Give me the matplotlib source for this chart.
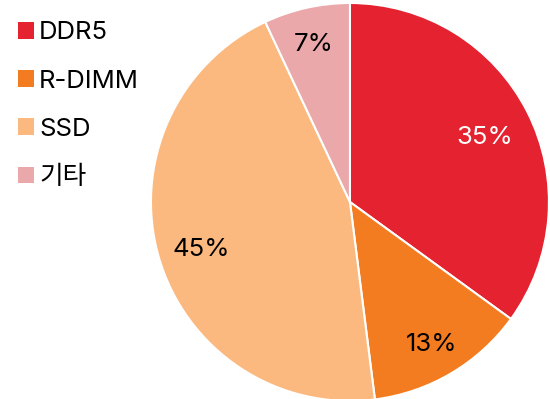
import matplotlib
matplotlib.use("Agg")
import matplotlib.pyplot as plt
import numpy as np
from matplotlib.patches import Patch

plt.rcParams['font.family'] = ['Inter', 'Noto Sans CJK KR', 'DejaVu Sans']

labels = ["DDR5", "R-DIMM", "SSD", "기타"]
shares = [35, 13, 45, 7]
colors = ["#E42230", "#F47C20", "#FBB97F", "#EBA8AA"]
text_colors = ["white", "black", "black", "black"]
label_radius = [0.76, 0.81, 0.78, 0.83]

fig = plt.figure(figsize=(5.5, 3.99), dpi=100)
ax = fig.add_axes([0.2745, -0.005, 0.7236, 0.9975])

wedges, texts, autotexts = ax.pie(
    shares, colors=colors, startangle=90, counterclock=False,
    autopct=lambda p: f"{p:.0f}%", pctdistance=0.8, radius=1,
    wedgeprops=dict(edgecolor="white", linewidth=1.5),
    textprops=dict(fontsize=18.5),
)
# place each percentage along its wedge's mid angle
for w, t, c, r in zip(wedges, autotexts, text_colors, label_radius):
    mid = np.deg2rad((w.theta1 + w.theta2) / 2)
    t.set_position((r * np.cos(mid), r * np.sin(mid) - 0.02))
    t.set_color(c)
ax.set_xlim(-1, 1)
ax.set_ylim(-1, 1)
ax.set_aspect("equal")
ax.axis("off")

handles = [Patch(facecolor=c, edgecolor="none") for c in colors]
fig.legend(handles, labels, loc="upper left", bbox_to_anchor=(0.005, 0.985),
           frameon=False, prop=dict(size=18.5),
           handlelength=0.62, handleheight=0.62,
           handletextpad=0.2, labelspacing=0.98, borderaxespad=0.2)

fig.savefig("out.png", dpi=100)
